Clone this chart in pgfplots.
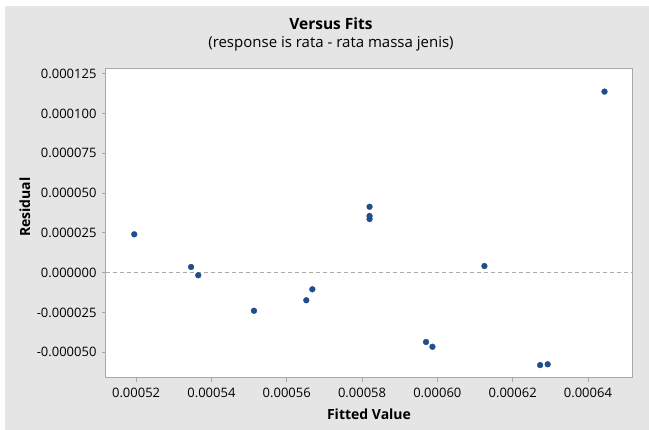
\documentclass[border=0pt]{standalone}
\usepackage{pgfplots}
\pgfplotsset{compat=1.18}
\usepackage{fontspec}
\setmainfont{Open Sans}
\definecolor{bgc}{HTML}{E5E5E5}
\definecolor{framec}{HTML}{A8A8A8}
\definecolor{ptc}{HTML}{1F4E8C}
\definecolor{refc}{HTML}{ABABAB}
\begin{document}
\begin{tikzpicture}
\fill[white] (0pt,0pt) rectangle (649pt,430pt);
\fill[bgc] (5pt,0pt) rectangle (649pt,424pt);
\node at (331pt,406pt) {\fontsize{15.5}{18}\selectfont\bfseries Versus Fits};
\node at (331pt,386.5pt) {\fontsize{15}{17}\selectfont (response is rata - rata massa jenis)};
\begin{axis}[
  at={(106pt,52pt)}, anchor=south west,
  width=526pt, height=309pt, scale only axis,
  axis background/.style={fill=white},
  xmin=0.000512, xmax=0.0006517,
  ymin=-0.0000661, ymax=0.0001279,
  scaled x ticks=false, scaled y ticks=false,
  xtick={0.00052,0.00054,0.00056,0.00058,0.00060,0.00062,0.00064},
  xticklabels={0.00052,0.00054,0.00056,0.00058,0.00060,0.00062,0.00064},
  ytick={-0.00005,-0.000025,0,0.000025,0.00005,0.000075,0.0001,0.000125},
  yticklabels={-0.000050,-0.000025,0.000000,0.000025,0.000050,0.000075,0.000100,0.000125},
  tick align=outside, major tick length=4pt,
  tick style={framec, line width=0.8pt},
  xtick pos=bottom, ytick pos=left,
  axis line style={framec, line width=1pt},
  ticklabel style={font=\fontsize{13}{15}\selectfont},
  xticklabel style={yshift=-3pt},
  yticklabel style={xshift=-2pt},
  xlabel={Fitted Value}, ylabel={Residual},
  label style={font=\fontsize{14}{16}\selectfont\bfseries},
  xlabel style={at={(axis description cs:0.5,-0.1165)}, anchor=center},
  ylabel style={at={(axis description cs:-0.154,0.553)}, anchor=center},
  clip=false,
]
\addplot[refc, line width=0.9pt, dash pattern=on 4pt off 3pt, no marks, forget plot]
  coordinates {(0.000512,0) (0.0006517,0)};
\addplot[only marks, mark=*, mark size=2.9pt, mark options={draw=ptc, fill=ptc}]
  coordinates {
  (0.0005195, 0.0000241)
  (0.0005346, 0.0000036)
  (0.0005365, -0.0000016)
  (0.0005513, -0.0000239)
  (0.0005652, -0.0000173)
  (0.0005668, -0.0000104)
  (0.0005820, 0.0000414)
  (0.0005820, 0.0000356)
  (0.0005820, 0.0000337)
  (0.0005970, -0.0000435)
  (0.0005987, -0.0000465)
  (0.0006125, 0.0000042)
  (0.0006273, -0.0000580)
  (0.0006293, -0.0000575)
  (0.0006444, 0.0001137)
  };
\end{axis}
\end{tikzpicture}
\end{document}
